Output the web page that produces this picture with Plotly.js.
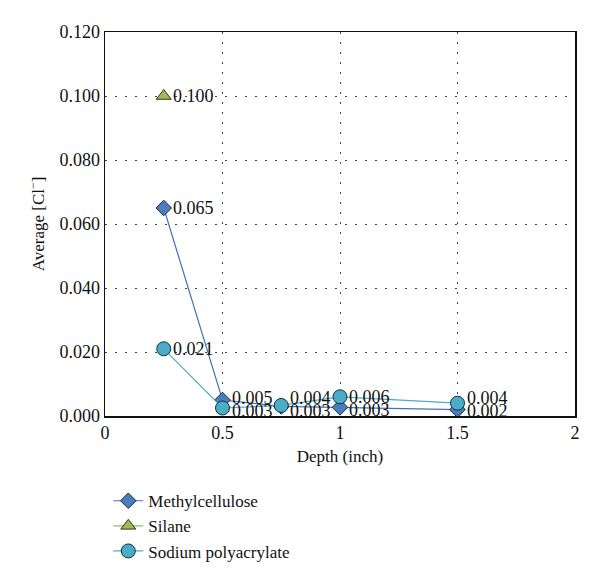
<!DOCTYPE html>
<html>
<head>
<meta charset="utf-8">
<script src="https://cdn.plot.ly/plotly-3.0.1.min.js"></script>
<style>body{margin:0;background:#fff}#chart{width:600px;height:583px}</style>
</head>
<body>
<div id="chart"></div>
<script>
const depthMC = [0.25, 0.5, 0.75, 1.0, 1.5];
const methylcellulose = [0.065, 0.005, 0.003, 0.0027, 0.002];
const labelsMC = ["0.065", "0.005", "0.003", "0.003", "0.002"];

const depthSilane = [0.25];
const silane = [0.100];
const labelsSilane = ["0.100"];

const depthSP = [0.25, 0.5, 0.75, 1.0, 1.5];
const sodiumPolyacrylate = [0.021, 0.0025, 0.0033, 0.006, 0.004];
const labelsSP = ["0.021", "0.003", "0.004", "0.006", "0.004"];

const serif = "Liberation Serif, DejaVu Serif, serif";

// label nudges in pixels (style only), so crowded labels sit as in the original
const nudgeMC = [0, 2, -5, -3, -1];
const nudgeSP = [0, -3, 7, 0, 5];
const nudgeSilane = [0];

function labelAnnotations(xs, ys, labels, nudges, dx) {
  return xs.map((x, i) => ({
    x: x, y: ys[i], xref: "x", yref: "y", text: labels[i],
    showarrow: false, xanchor: "left", yanchor: "middle",
    xshift: dx, yshift: nudges[i],
    font: {family: serif, size: 18, color: "#111"}
  }));
}

const traces = [
  {
    name: "Methylcellulose", x: depthMC, y: methylcellulose,
    mode: "lines+markers",
    line: {color: "#3f72b8", width: 1.2},
    marker: {symbol: "diamond", size: 12, color: "#4a7ebb", line: {color: "#1a2a40", width: 1}}
  },
  {
    name: "Silane", x: depthSilane, y: silane,
    mode: "lines+markers",
    line: {color: "#9bbb59", width: 1.2},
    marker: {symbol: "triangle-up", size: 13, color: "#9bbb59", line: {color: "#2a3a10", width: 1}}
  },
  {
    name: "Sodium polyacrylate", x: depthSP, y: sodiumPolyacrylate,
    mode: "lines+markers",
    line: {color: "#4bacc6", width: 1.2},
    marker: {symbol: "circle", size: 14, color: "#4bacc6", line: {color: "#12303a", width: 1}}
  }
];

const annotations = []
  .concat(labelAnnotations(depthMC, methylcellulose, labelsMC, nudgeMC, 7))
  .concat(labelAnnotations(depthSilane, silane, labelsSilane, nudgeSilane, 7))
  .concat(labelAnnotations(depthSP, sodiumPolyacrylate, labelsSP, nudgeSP, 7));

const layout = {
  width: 600, height: 583,
  margin: {l: 105, r: 25, t: 32, b: 167},
  paper_bgcolor: "#fff", plot_bgcolor: "#fff",
  font: {family: serif, size: 18, color: "#111"},
  showlegend: true,
  annotations: annotations,
  legend: {x: 0.007, xanchor: "left", y: -0.175, yanchor: "top",
           font: {family: serif, size: 17, color: "#111"}, tracegroupgap: 0},
  xaxis: {
    range: [0, 2], tickvals: [0, 0.5, 1, 1.5, 2], ticktext: ["0", "0.5", "1", "1.5", "2"],
    showgrid: true, gridcolor: "#444", griddash: "2px,8px", gridwidth: 1,
    showline: true, linecolor: "#111", linewidth: 1.5, mirror: true,
    zeroline: false, ticks: "", ticklen: 0,
    tickfont: {family: serif, size: 18},
    title: {text: "Depth (inch)", font: {family: serif, size: 17}, standoff: 8}
  },
  yaxis: {
    range: [0, 0.12], tickvals: [0, 0.02, 0.04, 0.06, 0.08, 0.1, 0.12],
    ticktext: ["0.000", "0.020", "0.040", "0.060", "0.080", "0.100", "0.120"],
    showgrid: true, gridcolor: "#444", griddash: "2px,8px", gridwidth: 1,
    showline: true, linecolor: "#111", linewidth: 1.5, mirror: true,
    zeroline: false, ticks: "", ticklen: 0,
    tickfont: {family: serif, size: 18},
    title: {text: "Average [Cl<sup>−</sup>]", font: {family: serif, size: 17}, standoff: 10}
  }
};

Plotly.newPlot("chart", traces, layout, {displayModeBar: false, staticPlot: true});
</script>
</body>
</html>
